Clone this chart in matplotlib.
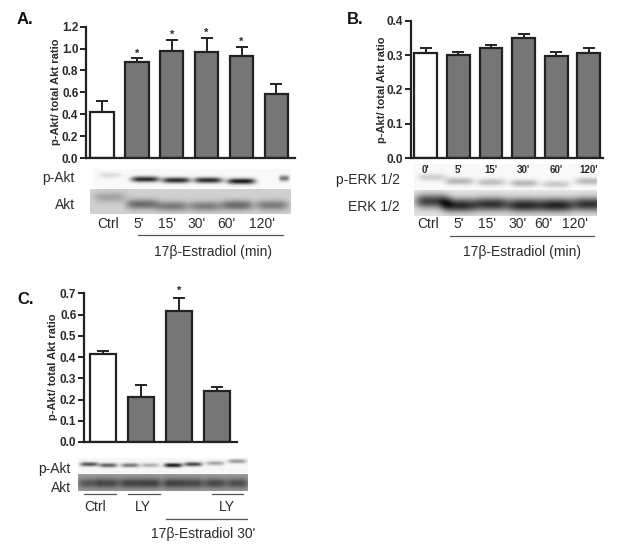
import numpy as np
import matplotlib
matplotlib.use('AGG')
import matplotlib.pyplot as plt

plt.rcParams['font.family'] = ['Liberation Sans', 'DejaVu Sans']

W, H = 621, 554
TEXTO = '#2b2b2b'
ESCURO = '#222222'
CINZA = '#767676'

# painel A
a_valores = [0.42, 0.88, 0.98, 0.965, 0.93, 0.585]
a_erros = [0.10, 0.03, 0.10, 0.135, 0.085, 0.09]
a_estrelas = [False, True, True, True, True, False]
a_ticks = [0.0, 0.2, 0.4, 0.6, 0.8, 1.0, 1.2]
a_pakt = [0.12, 0.85, 0.85, 0.85, 0.92, 0.55]
a_akt = [0.22, 0.50, 0.42, 0.40, 0.50, 0.42]

# painel B
b_valores = [0.305, 0.30, 0.32, 0.35, 0.297, 0.305]
b_erros = [0.015, 0.01, 0.01, 0.01, 0.013, 0.015]
b_ticks = [0.0, 0.1, 0.2, 0.3, 0.4]
b_nomes = ["0'", "5'", "15'", "30'", "60'", "120'"]
b_perk = [0.18, 0.28, 0.24, 0.27, 0.20, 0.26]
b_erk = [0.72, 0.82, 0.78, 0.82, 0.85, 0.78]

# painel C
c_valores = [0.415, 0.21, 0.615, 0.24]
c_erros = [0.015, 0.06, 0.065, 0.02]
c_estrelas = [False, False, True, False]
c_ticks = [0.0, 0.1, 0.2, 0.3, 0.4, 0.5, 0.6, 0.7]
c_pakt = [0.70, 0.65, 0.55, 0.30, 0.95, 0.75, 0.35, 0.40]
c_akt = [0.45, 0.55, 0.58, 0.60, 0.60, 0.55, 0.55, 0.52]


def eixo_barras(fig, x0, x1, y_topo, y_base, ymax, centros, largura, valores, erros, ticks):
    ax = fig.add_axes([x0 / W, 1 - y_base / H, (x1 - x0) / W, (y_base - y_topo) / H])
    ax.patch.set_alpha(0)
    cores = ['white'] + [CINZA] * (len(valores) - 1)
    ax.bar(centros, valores, width=largura, color=cores, edgecolor=ESCURO, linewidth=1.6,
           yerr=[[0] * len(erros), erros], ecolor=ESCURO,
           error_kw={'elinewidth': 1.4, 'capsize': 4.5, 'capthick': 1.4})
    ax.set_xlim(x0, x1)
    ax.set_ylim(0, ymax)
    ax.set_xticks([])
    ax.set_yticks(ticks)
    ax.set_yticklabels(['%.1f' % t for t in ticks], fontsize=8.5, fontweight='bold', color=TEXTO)
    ax.tick_params(axis='y', length=4, width=1.4, pad=1.5, color=ESCURO)
    ax.spines['top'].set_visible(False)
    ax.spines['right'].set_visible(False)
    ax.spines['left'].set_linewidth(1.6)
    ax.spines['bottom'].set_linewidth(1.6)
    ax.spines['left'].set_color(ESCURO)
    ax.spines['bottom'].set_color(ESCURO)
    return ax


def blot(tela, x0, x1, y0, y1, lanes, forca, yb, fundo, sx=10.0, sy=2.5):
    # banda de cada canaleta como uma mancha, so para imitar o western blot
    xs, ys = np.meshgrid(np.arange(x0, x1, 0.5), np.arange(y0, y1, 0.5))
    img = np.full(xs.shape, fundo, dtype=float)
    for lane, f, b, s in zip(lanes, forca, np.broadcast_to(yb, len(lanes)), np.broadcast_to(sx, len(lanes))):
        img = img - f * fundo * np.exp(-np.abs((xs - lane) / s) ** 4) * np.exp(-((ys - b) / sy) ** 2)
    tela.imshow(np.clip(img, 0, 1), cmap='gray', vmin=0, vmax=1, extent=(x0, x1, y1, y0),
                interpolation='bicubic', aspect='auto', zorder=1)


fig = plt.figure(figsize=(W / 100, H / 100), dpi=100)

# camada de fundo em pixels, para blots, textos e linhas
tela = fig.add_axes([0, 0, 1, 1])

# blots
blot(tela, 93, 291, 169, 188, [110, 145, 176, 208, 241, 284], a_pakt, [175, 179, 180, 180, 181, 178], 0.98,
     sx=[11, 14, 14, 14, 14, 5], sy=2.8)
blot(tela, 90, 291, 189, 214, [110, 142, 172, 205, 237, 272], a_akt, [197, 204, 206, 206, 205, 205], 0.82,
     sx=16, sy=5.0)

b_lanes = [432, 459, 491, 524, 556, 589]
blot(tela, 414, 597, 164, 190, b_lanes, b_perk, [177, 181, 182, 183, 184, 181], 0.98, sx=14, sy=3.5)
blot(tela, 414, 597, 190, 216, b_lanes, b_erk, [201, 205, 204, 205, 205, 204], 0.90, sx=17, sy=7.0)

c_lanes = [89, 108, 130, 150, 173, 193, 215, 237]
blot(tela, 78, 248, 458, 473, c_lanes, c_pakt, [464, 465, 465, 465, 465, 464, 463, 461], 0.97, sx=9, sy=2.0)
blot(tela, 78, 248, 474, 491, c_lanes, c_akt, 483, 0.62, sx=11, sy=5.0)

tela.set_xlim(0, W)
tela.set_ylim(H, 0)
tela.axis('off')

# graficos
a_centros = [102, 136.8, 171.7, 206.6, 241.5, 276.4]
b_centros = [425.7, 458.3, 491, 523.6, 556.2, 588.8]
c_centros = [103.3, 141.2, 179, 217]
eixo_barras(fig, 86, 295, 26.7, 158, 1.2, a_centros, 23.5, a_valores, a_erros, a_ticks)
eixo_barras(fig, 410.7, 603, 20.7, 158, 0.4, b_centros, 22.7, b_valores, b_erros, b_ticks)
eixo_barras(fig, 84, 237, 293.3, 442, 0.7, c_centros, 26, c_valores, c_erros, c_ticks)

# estrelas
for cx, v, e, s in zip(a_centros, a_valores, a_erros, a_estrelas):
    if s:
        tela.text(cx, 158 - (v + e) * 131.3 / 1.2 - 5, '*', ha='center', va='center', fontsize=8, color=TEXTO, fontweight='bold', zorder=5)
for cx, v, e, s in zip(c_centros, c_valores, c_erros, c_estrelas):
    if s:
        tela.text(cx, 442 - (v + e) * 148.7 / 0.7 - 7, '*', ha='center', va='center', fontsize=8, color=TEXTO, fontweight='bold', zorder=5)

# letras dos paineis
for letra, x, y in [('A.', 17, 20), ('B.', 347, 20), ('C.', 17, 300)]:
    tela.text(x, y, letra, fontsize=12, fontweight='bold', color='#111111', va='center')

# titulos do eixo y
for x, y in [(56, 92), (382, 90), (53, 367)]:
    tela.text(x, y, 'p-Akt/ total Akt ratio', rotation=90, fontsize=8, fontweight='bold',
              color=TEXTO, ha='center', va='center')

# nomes do painel B abaixo do eixo
for cx, nome in zip(b_centros, b_nomes):
    tela.text(cx, 170, nome, fontsize=7, fontweight='bold', color=TEXTO, ha='center', va='center', zorder=5)

# rotulos dos blots
for txt, x, y in [('p-Akt', 75, 178), ('Akt', 75, 205), ('p-ERK 1/2', 400, 180), ('ERK 1/2', 400, 207),
                  ('p-Akt', 71, 469), ('Akt', 71, 488)]:
    tela.text(x, y, txt, fontsize=10, color=TEXTO, ha='right', va='center')

# canaletas
for txt, x in zip(['Ctrl', "5'", "15'", "30'", "60'", "120'"], [108, 139, 167, 196, 226, 262]):
    tela.text(x, 224, txt, fontsize=10, color=TEXTO, ha='center', va='center')
for txt, x in zip(['Ctrl', "5'", "15'", "30'", "60'", "120'"], [428, 459, 487, 517, 543, 575]):
    tela.text(x, 224, txt, fontsize=10, color=TEXTO, ha='center', va='center')
for txt, x in zip(['Ctrl', 'LY', 'LY'], [95, 143, 227]):
    tela.text(x, 507, txt, fontsize=10, color=TEXTO, ha='center', va='center')

# linhas de agrupamento
for x0, x1, y in [(138, 283, 235), (450, 594, 236), (84, 116, 494), (128, 160, 494), (212, 243, 494), (166, 247, 519)]:
    tela.plot([x0, x1], [y, y], color='#555555', lw=0.9)

tela.text(213, 252, '17β-Estradiol (min)', fontsize=10, color=TEXTO, ha='center', va='center')
tela.text(522, 252, '17β-Estradiol (min)', fontsize=10, color=TEXTO, ha='center', va='center')
tela.text(203, 534, "17β-Estradiol 30'", fontsize=10, color=TEXTO, ha='center', va='center')

tela.set_xlim(0, W)
tela.set_ylim(H, 0)

plt.savefig('out.png', dpi=100)
